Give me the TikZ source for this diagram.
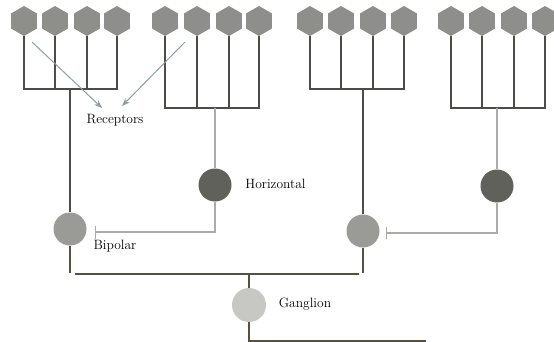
\documentclass[tikz,border=0pt]{standalone}
\usetikzlibrary{shapes.geometric,arrows.meta}
\definecolor{hexc}{HTML}{8E8E8A}
\definecolor{darkl}{HTML}{4C4C48}
\definecolor{olivel}{HTML}{55503F}
\definecolor{grayl}{HTML}{ABABA8}
\definecolor{arrc}{HTML}{8E9EA2}
\definecolor{bipc}{HTML}{9A9A96}
\definecolor{horc}{HTML}{5F615A}
\definecolor{ganc}{HTML}{C7C8C3}
\tikzset{
  hexa/.style={regular polygon, regular polygon sides=6, shape border rotate=90, fill=hexc, draw=none, inner sep=0pt, minimum size=30pt},
  cell/.style={circle, draw=none, inner sep=0pt, minimum size=33pt},
  darkline/.style={draw=darkl, line width=1.7pt},
  gangline/.style={draw=olivel, line width=1.5pt},
  grayline/.style={draw=grayl, line width=1.3pt},
  pointer/.style={draw=arrc, line width=1pt, -{Stealth[length=8pt,width=6pt]}},
  lbl/.style={font=\fontsize{13.5}{16}\selectfont, inner sep=0pt}
}
\begin{document}
\begin{tikzpicture}[x=1pt,y=-1pt]
\useasboundingbox[fill=white] (0,0) rectangle (554,342);
% receptors
\foreach \n/\x in {1/24,2/55,3/87,4/117,5/165,6/197,7/229,8/259,9/310,10/341,11/373,12/404,13/451,14/482,15/514,16/545}
  \node[hexa] (h\n) at (\x,21) {};
% cells
\node[cell, fill=bipc] (bp1) at (70,229) {};
\node[cell, fill=horc] (hz1) at (215,185) {};
\node[cell, fill=bipc] (bp2) at (363,231) {};
\node[cell, fill=horc] (hz2) at (497,186) {};
\node[cell, fill=ganc, minimum size=34pt] (g) at (249,305) {};
% bar coordinates
\coordinate (b1) at (70,89);
\coordinate (b2) at (215,108);
\coordinate (b3) at (363,89);
\coordinate (b4) at (497,108);
% group 1
\draw[darkline] (h1.south) -- (h1.south |- b1) -- (h4.south |- b1) -- (h4.south);
\draw[darkline] (h2.south) -- (h2.south |- b1);
\draw[darkline] (h3.south) -- (h3.south |- b1);
\draw[darkline] (b1) -- (bp1.north);
% group 2
\draw[darkline] (h5.south) -- (h5.south |- b2) -- (h8.south |- b2) -- (h8.south);
\draw[darkline] (h6.south) -- (h6.south |- b2);
\draw[darkline] (h7.south) -- (h7.south |- b2);
\draw[grayline] (b2) -- (hz1.north);
% group 3
\draw[darkline] (h9.south) -- (h9.south |- b3) -- (h12.south |- b3) -- (h12.south);
\draw[darkline] (h10.south) -- (h10.south |- b3);
\draw[darkline] (h11.south) -- (h11.south |- b3);
\draw[darkline] (b3) -- (bp2.north);
% group 4
\draw[darkline] (h13.south) -- (h13.south |- b4) -- (h16.south |- b4) -- (h16.south);
\draw[darkline] (h14.south) -- (h14.south |- b4);
\draw[darkline] (h15.south) -- (h15.south |- b4);
\draw[grayline] (b4) -- (hz2.north);
% inhibitory connections
\coordinate (t1) at (95,232);
\coordinate (t2) at (386,233);
\draw[grayline, -{Bar[width=13pt,line width=1pt]}] (hz1.south) |- (t1);
\draw[grayline, -{Bar[width=12pt,line width=1pt]}] (hz2.south) |- (t2);
% to ganglion
\coordinate (e1) at (70,273);
\coordinate (e2) at (363,273);
\coordinate (gl) at (75,274);
\coordinate (gr) at (359,274);
\coordinate (ge) at (426,341);
\draw[gangline] (bp1.south) -- (e1);
\draw[gangline] (bp2.south) -- (e2);
\draw[gangline] (gl) -- (gr);
\draw[gangline] (g.north |- gl) -- (g.north);
\draw[gangline] (g.south) |- (ge);
% pointers
\coordinate (a1) at (32,42);
\coordinate (a1e) at (102,108);
\coordinate (a2) at (185,42);
\coordinate (a2e) at (122,106);
\draw[pointer] (a1) -- (a1e);
\draw[pointer] (a2) -- (a2e);
% labels
\node[lbl] (lrec) at (115,120) {Receptors};
\node[lbl] (lhor) at (275.5,184) {Horizontal};
\node[lbl] (lbip) at (115,246) {Bipolar};
\node[lbl] (lgan) at (305,304) {Ganglion};
\end{tikzpicture}
\end{document}
